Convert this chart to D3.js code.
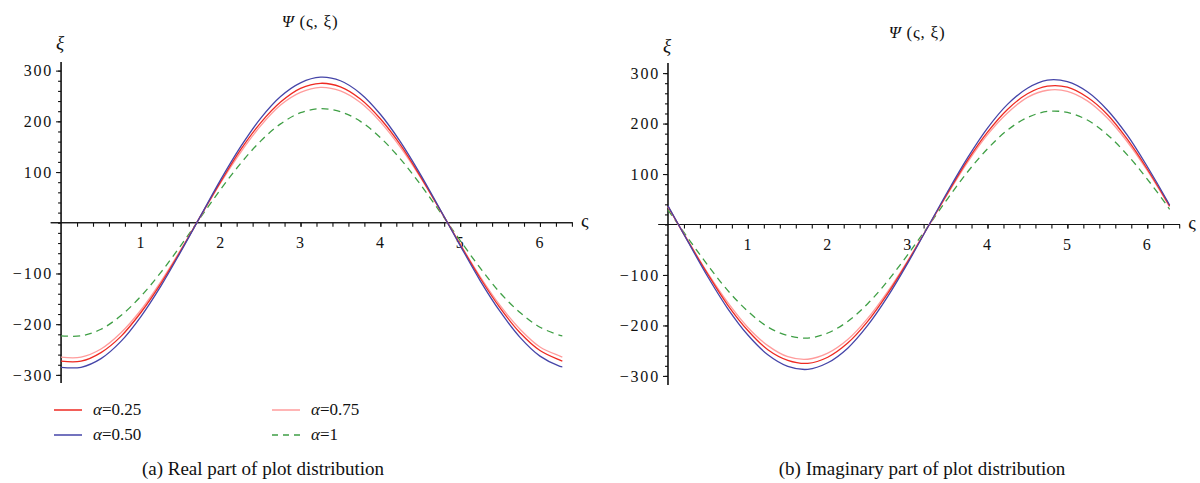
<!DOCTYPE html>
<html>
<head>
<meta charset="utf-8">
<script src="https://cdn.jsdelivr.net/npm/d3@7"></script>
<style>
  body { margin: 0; background: #fff; }
  svg { display: block; }
  text { font-family: "Liberation Serif", "DejaVu Serif", serif; fill: #111; }
</style>
</head>
<body>
<svg id="chart" width="1200" height="483"></svg>
<script>
// ς sample positions
const xs = [0, 0.25, 0.5, 0.75, 1, 1.25, 1.5, 1.75, 2, 2.25, 2.5, 2.75, 3, 3.25, 3.5,
  3.75, 4, 4.25, 4.5, 4.75, 5, 5.25, 5.5, 5.75, 6, 6.25, 6.28];

// (a) real part
const realA025 = [-273, -273, -256, -224, -177, -120, -55, 14, 81, 144, 197, 238, 265, 275, 268,
  244, 205, 154, 92, 25, -43, -109, -168, -217, -252, -271, -273];
const realA050 = [-285, -285, -268, -234, -185, -125, -57, 14, 85, 150, 206, 249, 276, 287, 280,
  255, 214, 160, 96, 26, -45, -114, -175, -226, -263, -283, -284];
const realA075 = [-265, -265, -249, -217, -172, -116, -53, 13, 79, 139, 191, 232, 257, 267, 260,
  237, 199, 149, 90, 25, -42, -106, -163, -210, -245, -263, -265];
const realA1 = [-223, -223, -210, -183, -145, -98, -45, 11, 66, 117, 161, 195, 217, 225, 219,
  200, 168, 126, 76, 21, -35, -89, -138, -177, -206, -222, -223];

// (b) imaginary part
const imagA025 = [36, -33, -99, -160, -210, -248, -269, -275, -263, -235, -192, -137, -74, -6, 62,
  127, 183, 228, 259, 274, 272, 252, 218, 169, 110, 45, 37];
const imagA050 = [37, -34, -104, -167, -219, -258, -281, -287, -274, -245, -200, -143, -77, -6, 65,
  132, 191, 238, 270, 286, 283, 263, 227, 177, 115, 47, 38];
const imagA075 = [35, -32, -97, -155, -204, -240, -262, -267, -255, -228, -186, -133, -72, -6, 60,
  123, 178, 221, 252, 266, 264, 245, 211, 164, 107, 43, 35];
const imagA1 = [29, -27, -81, -131, -172, -203, -220, -225, -215, -192, -157, -112, -60, -5, 51,
  104, 150, 187, 212, 224, 222, 207, 178, 138, 90, 37, 30];

const seriesNames = ["α=0.25", "α=0.50", "α=0.75", "α=1"];
const seriesColors = ["#ee2a22", "#4545a8", "#ff9c9c", "#3f9f45"];
const seriesDash = [null, null, null, "7,5"];

const xMajor = [1, 2, 3, 4, 5, 6];
const yMajor = [-300, -200, -100, 100, 200, 300];

const svg = d3.select("#chart");

function drawPanel(p) {
  const x = d3.scaleLinear().domain([p.xMin, 6.41]).range([p.left, p.right]);
  const y = d3.scaleLinear().domain([p.yMin, p.yMax]).range([p.bottom, p.top]);
  const g = svg.append("g");

  // x axis (through zero)
  const xAxisG = g.append("g").attr("transform", `translate(0,${y(0)})`);
  xAxisG.call(d3.axisBottom(x).tickValues(d3.range(0.2, 6.41, 0.2)).tickSize(4).tickFormat(""));
  xAxisG.append("g").call(d3.axisBottom(x).tickValues(xMajor).tickSize(4).tickPadding(10).tickFormat(d3.format("d")));
  xAxisG.selectAll(".domain").attr("d", `M${p.left},0H${p.right}`);

  // y axis (through zero)
  const yAxisG = g.append("g").attr("transform", `translate(${x(0)},0)`);
  yAxisG.call(d3.axisLeft(y).tickValues(d3.range(-300, 301, 20)).tickSize(3).tickFormat(""));
  yAxisG.append("g").call(d3.axisLeft(y).tickValues(yMajor).tickSize(5).tickPadding(3));
  yAxisG.selectAll(".domain").attr("d", `M0,${p.bottom}V${p.top}`);

  g.selectAll(".domain, .tick line").attr("stroke", "#111").attr("stroke-width", 1.1);
  g.selectAll(".tick text").style("font-family", '"Liberation Serif", serif')
    .style("font-size", "16px").style("letter-spacing", "1.8px").attr("fill", "#111");

  const line = d3.line().x((d, i) => x(xs[i])).y(d => y(d)).curve(d3.curveCatmullRom);
  [3, 2, 0, 1].forEach(k => {
    g.append("path").datum(p.series[k])
      .attr("fill", "none").attr("stroke", seriesColors[k]).attr("stroke-width", 1.3)
      .attr("stroke-dasharray", seriesDash[k]).attr("d", line);
  });

  // labels
  g.append("text").attr("x", x(0) - 1).attr("y", p.xiY).attr("text-anchor", "middle")
    .style("font-size", "19px").style("font-style", "italic").text("ξ");
  g.append("text").attr("x", p.right + 12).attr("y", y(0) + 4).attr("text-anchor", "middle")
    .style("font-size", "19px").text("ς");
  const t = g.append("text").attr("x", p.titleX).attr("y", p.titleY).attr("text-anchor", "middle")
    .style("font-size", "17px").style("letter-spacing", "0.8px");
  t.append("tspan").style("font-style", "italic").text("Ψ");
  t.append("tspan").text(" (ς, ξ)");

  g.append("text").attr("x", p.capX).attr("y", 475).attr("text-anchor", "middle")
    .style("font-size", "19px").text(p.caption);
}

drawPanel({
  xMin: -0.13, left: 50.7, right: 572.7,
  yMin: -316, yMax: 317, top: 62, bottom: 383,
  series: [realA025, realA050, realA075, realA1],
  xiY: 49, titleX: 310, titleY: 27, capX: 263,
  caption: "(a) Real part of plot distribution"
});

drawPanel({
  xMin: -0.12, left: 658.4, right: 1180,
  yMin: -318, yMax: 320, top: 63, bottom: 385,
  series: [imagA025, imagA050, imagA075, imagA1],
  xiY: 52, titleX: 917, titleY: 38, capX: 922,
  caption: "(b) Imaginary part of plot distribution"
});

// legend
const legendPos = [[54, 410], [54, 435], [272, 410], [272, 435]];
const leg = svg.append("g");
seriesNames.forEach((name, k) => {
  const [lx, ly] = legendPos[k];
  leg.append("line").attr("x1", lx).attr("x2", lx + 28).attr("y1", ly).attr("y2", ly)
    .attr("stroke", seriesColors[k]).attr("stroke-width", 1.5)
    .attr("stroke-dasharray", k === 3 ? "6,5" : null);
  const tx = leg.append("text").attr("x", lx + 39).attr("y", ly + 5).style("font-size", "17px");
  tx.append("tspan").style("font-style", "italic").text(name.slice(0, 1));
  tx.append("tspan").text(name.slice(1));
});
</script>
</body>
</html>
